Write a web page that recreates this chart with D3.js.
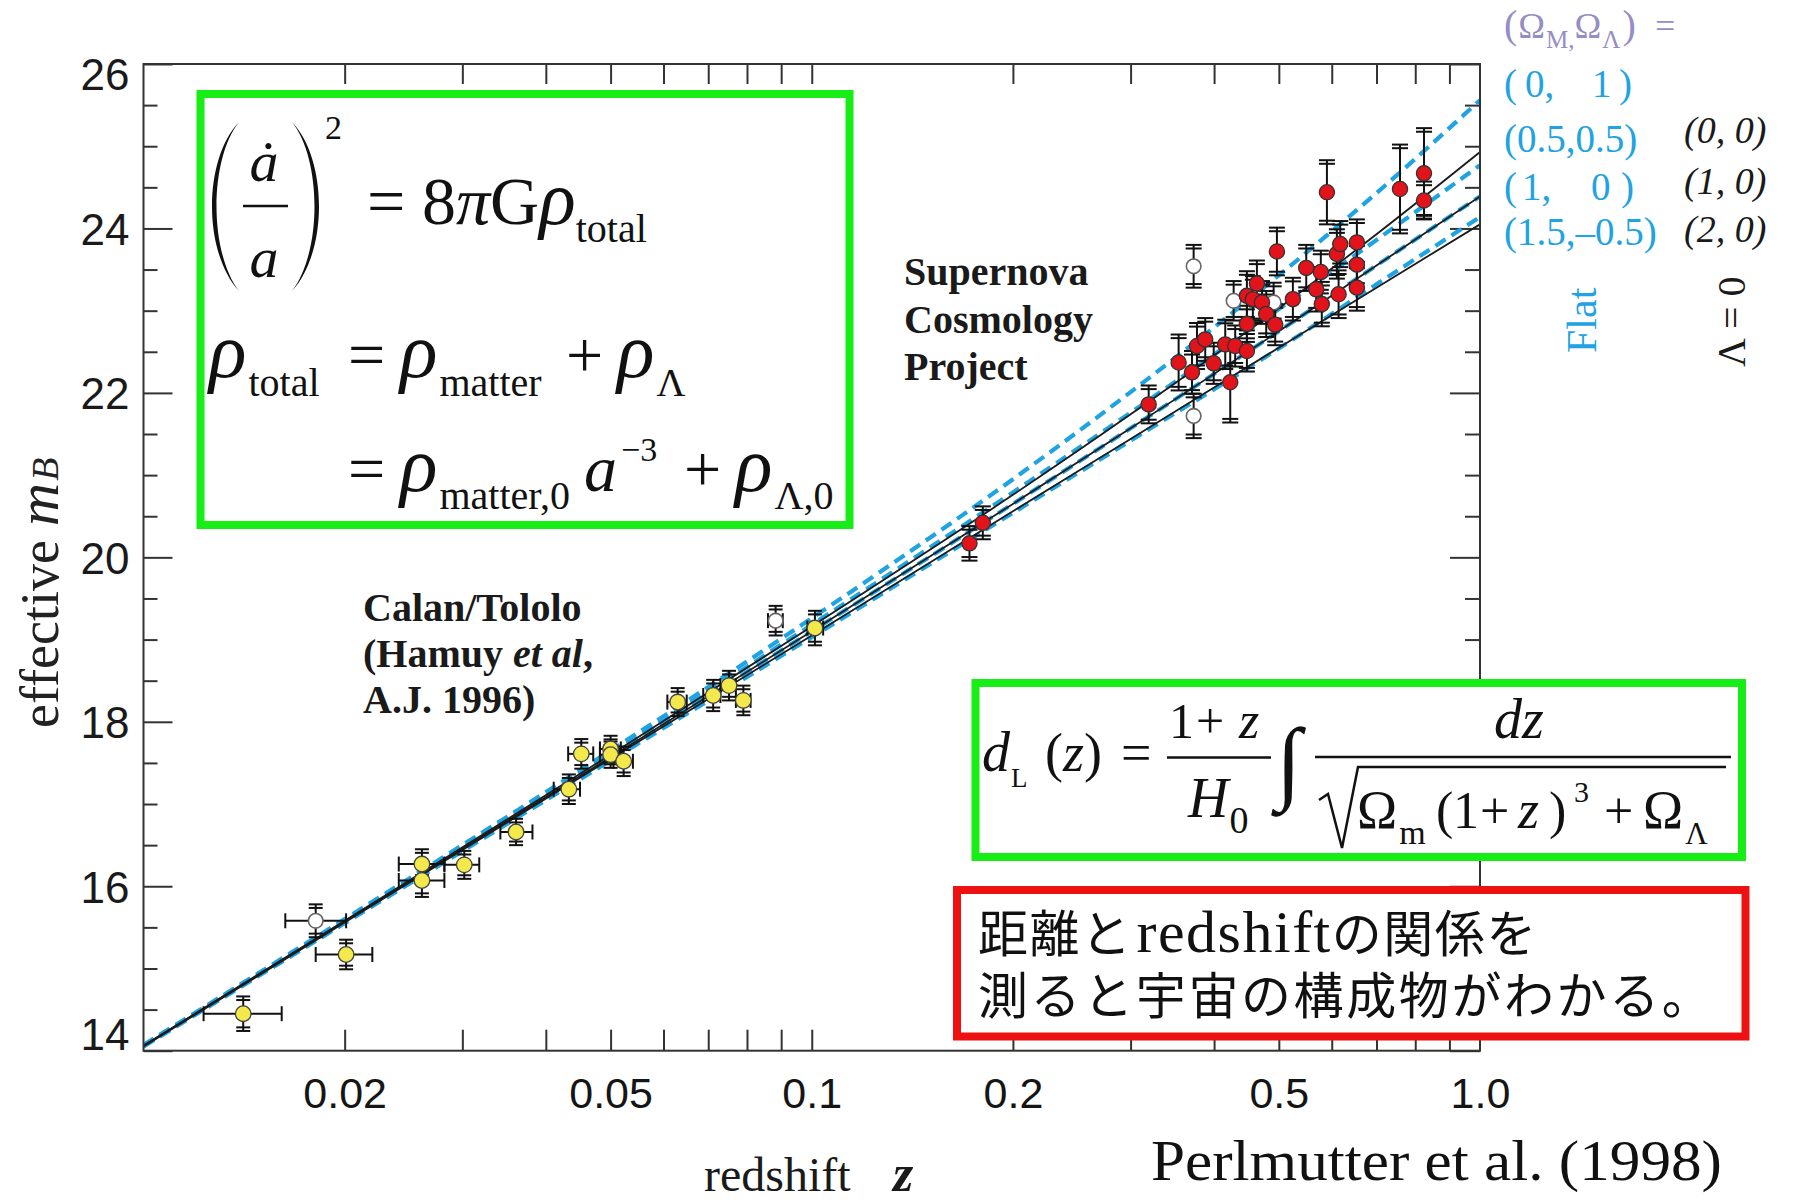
<!DOCTYPE html>
<html>
<head>
<meta charset="utf-8">
<script src="https://cdn.jsdelivr.net/npm/d3@7"></script>
<style>
  html, body { margin: 0; padding: 0; background: #fff; }
  svg { display: block; }
</style>
</head>
<body>
<svg id="chart" width="1793" height="1204"></svg>
<script>
// ---------------------------------------------------------------
// Hubble diagram of Type Ia supernovae, effective m_B vs redshift
// ---------------------------------------------------------------

// redshifts at which the cosmological model curves are sampled
const modelZ = [0.01, 0.02, 0.05, 0.1, 0.2, 0.3, 0.5, 0.7, 1.0];

// flat models (Ω_M, Ω_Λ)
const flat_0_1      = [14.07, 15.60, 17.65, 19.26, 20.95, 22.01, 23.43, 24.43, 25.56];
const flat_05_05    = [14.06, 15.58, 17.61, 19.18, 20.79, 21.76, 23.02, 23.86, 24.77];
const flat_1_0      = [14.06, 15.57, 17.57, 19.10, 20.65, 21.57, 22.75, 23.55, 24.39];
const flat_15_m05   = [14.05, 15.55, 17.53, 19.03, 20.54, 21.42, 22.54, 23.32, 24.14];

// Λ = 0 models (Ω_M, Ω_Λ)
const lambda0_0_0   = [14.06, 15.58, 17.60, 19.16, 20.76, 21.74, 23.03, 23.93, 24.93];
const lambda0_1_0   = [14.06, 15.57, 17.57, 19.10, 20.65, 21.57, 22.75, 23.55, 24.39];
const lambda0_2_0   = [14.05, 15.56, 17.55, 19.05, 20.56, 21.44, 22.55, 23.28, 24.05];

// Calan/Tololo supernovae: [z, m_B, σ_m, z_low, z_high]
const calanTololo = [
  [0.0141, 14.45, 0.21, 0.0123, 0.0161],
  [0.0201, 15.17, 0.18, 0.0181, 0.0220],
  [0.0261, 16.27, 0.18, 0.0241, 0.0282],
  [0.0261, 16.07, 0.20, 0.0241, 0.0282],
  [0.0302, 16.26, 0.17, 0.0282, 0.0318],
  [0.0361, 16.66, 0.16, 0.0342, 0.0382],
  [0.0433, 17.18, 0.18, 0.0411, 0.0450],
  [0.0452, 17.61, 0.18, 0.0432, 0.0471],
  [0.0500, 17.67, 0.16, 0.0482, 0.0518],
  [0.0500, 17.60, 0.16, 0.0482, 0.0518],
  [0.0523, 17.52, 0.18, 0.0505, 0.0540],
  [0.0630, 18.24, 0.17, 0.0608, 0.0650],
  [0.0712, 18.32, 0.19, 0.0688, 0.0730],
  [0.0752, 18.44, 0.18, 0.0730, 0.0770],
  [0.0790, 18.26, 0.18, 0.0770, 0.0810],
  [0.1011, 19.14, 0.21, 0.0985, 0.1040]
];

// supernovae left out of the fit (open symbols): [z, m_B, σ_m, z_low, z_high]
const excludedLowZ = [
  [0.0181, 15.58, 0.20, 0.0163, 0.0201],
  [0.0883, 19.23, 0.18, 0.0860, 0.0905]
];
// [z, m_B, σ_m]
const excludedHighZ = [
  [0.3728, 23.54, 0.26],
  [0.3728, 21.72, 0.27],
  [0.4279, 23.12, 0.24],
  [0.4911, 23.10, 0.24]
];

// Supernova Cosmology Project: [z, m_B, σ_m]
const scp = [
  [0.1722, 20.17, 0.21], [0.1803, 20.42, 0.20],
  [0.3193, 21.86, 0.23], [0.3540, 22.37, 0.34], [0.3707, 22.25, 0.26],
  [0.3771, 22.57, 0.28], [0.3880, 22.65, 0.26], [0.3995, 22.36, 0.25],
  [0.4157, 22.59, 0.30], [0.4229, 22.13, 0.49], [0.4302, 22.57, 0.25],
  [0.4479, 22.51, 0.25], [0.4479, 22.84, 0.22], [0.4479, 23.18, 0.30],
  [0.4572, 23.14, 0.28], [0.4636, 23.33, 0.28], [0.4718, 23.10, 0.26],
  [0.4787, 22.96, 0.28], [0.4938, 22.83, 0.25], [0.4967, 23.72, 0.29],
  [0.5248, 23.14, 0.26], [0.5495, 23.52, 0.28], [0.5687, 23.26, 0.27],
  [0.5778, 23.47, 0.26], [0.5798, 23.08, 0.27], [0.5901, 24.44, 0.39],
  [0.6107, 23.69, 0.30], [0.6178, 23.81, 0.28], [0.6143, 23.20, 0.29],
  [0.6543, 23.83, 0.28], [0.6543, 23.56, 0.27], [0.6543, 23.28, 0.28],
  [0.7591, 24.48, 0.54], [0.8245, 24.67, 0.55], [0.8245, 24.34, 0.23]
];

// axis ticks
const xTickVals  = [0.02, 0.03, 0.04, 0.05, 0.06, 0.07, 0.08, 0.09, 0.1,
                    0.2, 0.3, 0.4, 0.5, 0.6, 0.7, 0.8, 0.9];
const xLabelVals = [0.02, 0.05, 0.1, 0.2, 0.5, 1.0];
const xLabelText = ['0.02', '0.05', '0.1', '0.2', '0.5', '1.0'];
const yMajor = [14, 16, 18, 20, 22, 24, 26];
const yMinor = [14.5, 15, 15.5, 16.5, 17, 17.5, 18.5, 19, 19.5, 20.5, 21, 21.5,
                22.5, 23, 23.5, 24.5, 25, 25.5];

// ---------------------------------------------------------------
const svg = d3.select('#chart');
const L = 143.5, R = 1480, T = 64, B = 1050.7;

const x = d3.scaleLog().domain([0.01, 1.0]).range([L, R]);
const y = d3.scaleLinear().domain([14, 26]).range([B, T]);

const SERIF = "'Liberation Serif', 'Times New Roman', serif";
const SANS  = "'Liberation Sans', Arial, sans-serif";
const BLUE  = '#1fa3e2';
const AXIS  = '#333';

svg.append('rect').attr('width', 1793).attr('height', 1204).attr('fill', '#fff');

svg.append('defs').append('clipPath').attr('id', 'plotClip')
  .append('rect').attr('x', L).attr('y', T).attr('width', R - L).attr('height', B - T);

// ---------- axes ----------
function styleAxis(g) {
  g.select('.domain').remove();
  g.selectAll('.tick line').attr('stroke', AXIS).attr('stroke-width', 2);
}
const blank = () => '';

svg.append('g').attr('transform', `translate(0,${B})`)
  .call(d3.axisBottom(x).tickValues(xTickVals).tickSize(-21).tickFormat(blank)).call(styleAxis);
svg.append('g').attr('transform', `translate(0,${T})`)
  .call(d3.axisTop(x).tickValues(xTickVals).tickSize(-20).tickFormat(blank)).call(styleAxis);

svg.append('g').attr('transform', `translate(${L},0)`)
  .call(d3.axisLeft(y).tickValues(yMinor).tickSize(-14).tickFormat(blank)).call(styleAxis);
svg.append('g').attr('transform', `translate(${R},0)`)
  .call(d3.axisRight(y).tickValues(yMinor).tickSize(-15).tickFormat(blank)).call(styleAxis);
svg.append('g').attr('transform', `translate(${R},0)`)
  .call(d3.axisRight(y).tickValues(yMajor).tickSize(-30).tickFormat(blank)).call(styleAxis);

const yAxisG = svg.append('g').attr('transform', `translate(${L},0)`)
  .call(d3.axisLeft(y).tickValues(yMajor).tickSize(-29).tickPadding(14).tickFormat(d3.format('d')))
  .call(styleAxis);
yAxisG.selectAll('text')
  .attr('font-family', SANS).attr('font-size', 44).attr('fill', '#1a1a1a')
  .attr('dy', '0.36em')
  .attr('y', d => d === 26 ? 10 : (d === 14 ? -17 : 0));

const xAxisG = svg.append('g').attr('transform', `translate(0,${B})`)
  .call(d3.axisBottom(x).tickValues(xLabelVals).tickSize(0).tickPadding(27)
    .tickFormat((d, i) => xLabelText[i]));
xAxisG.select('.domain').remove();
xAxisG.selectAll('text').attr('font-family', SANS).attr('font-size', 43).attr('fill', '#151515');

// ---------- model curves ----------
const curve = d3.line()
  .x((d, i) => x(modelZ[i]))
  .y(d => y(d))
  .curve(d3.curveMonotoneX);

const models = svg.append('g').attr('clip-path', 'url(#plotClip)');
[flat_0_1, flat_05_05, flat_1_0, flat_15_m05].forEach(s => {
  models.append('path').attr('d', curve(s)).attr('fill', 'none')
    .attr('stroke', BLUE).attr('stroke-width', 4.2).attr('stroke-dasharray', '12,7');
});
[lambda0_0_0, lambda0_1_0, lambda0_2_0].forEach(s => {
  models.append('path').attr('d', curve(s)).attr('fill', 'none')
    .attr('stroke', '#1c1c1c').attr('stroke-width', 1.8);
});

// ---------- error bars ----------
const bars = svg.append('g').attr('stroke', '#111').attr('stroke-width', 2).attr('fill', 'none');

function yErrorBar(z, m, e, half) {
  const cx = x(z), yTop = y(m + e), yBot = y(m - e);
  bars.append('line').attr('x1', cx).attr('x2', cx).attr('y1', yTop).attr('y2', yBot);
  [yTop, yTop + 3.6, yBot, yBot - 3.6].forEach(yy => {
    bars.append('line').attr('x1', cx - half).attr('x2', cx + half).attr('y1', yy).attr('y2', yy);
  });
}
function xErrorBar(z, m, zlo, zhi) {
  const cy = y(m), x0 = x(zlo), x1 = x(zhi);
  bars.append('line').attr('x1', x0).attr('x2', x1).attr('y1', cy).attr('y2', cy);
  [x0, x1].forEach(xx => {
    bars.append('line').attr('x1', xx).attr('x2', xx).attr('y1', cy - 7.5).attr('y2', cy + 7.5);
  });
}

calanTololo.forEach(d => { yErrorBar(d[0], d[1], d[2], 7); xErrorBar(d[0], d[1], d[3], d[4]); });
excludedLowZ.forEach(d => { yErrorBar(d[0], d[1], d[2], 7); xErrorBar(d[0], d[1], d[3], d[4]); });
excludedHighZ.forEach(d => yErrorBar(d[0], d[1], d[2], 8));
scp.forEach(d => yErrorBar(d[0], d[1], d[2], 8));

// ---------- markers ----------
const marks = svg.append('g');
marks.selectAll('circle.open').data(excludedLowZ.concat(excludedHighZ)).join('circle')
  .attr('cx', d => x(d[0])).attr('cy', d => y(d[1])).attr('r', 7.3)
  .attr('fill', '#fff').attr('stroke', '#666').attr('stroke-width', 1.6);
marks.selectAll('circle.ct').data(calanTololo).join('circle')
  .attr('cx', d => x(d[0])).attr('cy', d => y(d[1])).attr('r', 7.8)
  .attr('fill', '#f3e94a').attr('stroke', '#444').attr('stroke-width', 1.3);
marks.selectAll('circle.scp').data(scp).join('circle')
  .attr('cx', d => x(d[0])).attr('cy', d => y(d[1])).attr('r', 7.6)
  .attr('fill', '#e3131b').attr('stroke', '#333').attr('stroke-width', 1.3);

// ---------- frame ----------
svg.append('rect').attr('x', L).attr('y', T).attr('width', R - L).attr('height', B - T)
  .attr('fill', 'none').attr('stroke', AXIS).attr('stroke-width', 2);

// ---------- text helper ----------
function rich(pieces, opts = {}) {
  const t = svg.append('text')
    .attr('font-family', opts.family || SERIF)
    .attr('fill', opts.fill || '#111');
  if (opts.transform) t.attr('transform', opts.transform);
  if (opts.anchor) t.attr('text-anchor', opts.anchor);
  pieces.forEach(p => {
    const s = t.append('tspan').text(p.t).attr('font-size', p.s);
    if (p.i) s.attr('font-style', 'italic');
    if (p.b) s.attr('font-weight', 'bold');
    if (p.x != null) s.attr('x', p.x);
    if (p.y != null) s.attr('y', p.y);
    if (p.dx != null) s.attr('dx', p.dx);
    if (p.dy != null) s.attr('dy', p.dy);
    if (p.f) s.attr('fill', p.f);
  });
  return t;
}

// ---------- axis titles ----------
rich([
  { t: 'effective', s: 54 },
  { t: 'm', s: 60, i: 1, dx: 14 },
  { t: 'B', s: 38, i: 1, dx: 2 }
], { transform: 'translate(58,728) rotate(-90)', fill: '#222' });

rich([
  { t: 'redshift', s: 48, x: 704, y: 1191 },
  { t: 'z', s: 52, i: 1, b: 1, x: 893, y: 1191 }
], { fill: '#1a1a1a' });

// ---------- data set captions ----------
rich([{ t: 'Calan/Tololo', s: 40, b: 1, x: 363, y: 621 }], { fill: '#1a1a1a' });
rich([
  { t: '(Hamuy ', s: 40, b: 1, x: 363, y: 667 },
  { t: 'et al', s: 40, b: 1, i: 1 },
  { t: ',', s: 40, b: 1 }
], { fill: '#1a1a1a' });
rich([{ t: 'A.J. 1996)', s: 40, b: 1, x: 363, y: 713 }], { fill: '#1a1a1a' });

rich([{ t: 'Supernova', s: 40, b: 1, x: 904, y: 285 }], { fill: '#1a1a1a' });
rich([{ t: 'Cosmology', s: 40, b: 1, x: 904, y: 333 }], { fill: '#1a1a1a' });
rich([{ t: 'Project', s: 40, b: 1, x: 904, y: 380 }], { fill: '#1a1a1a' });

// ---------- model legend ----------
const PURPLE = '#968dc6';
rich([
  { t: '(', s: 40, x: 1504, y: 38 },
  { t: 'Ω', s: 36, dx: 1 },
  { t: 'M,', s: 25, y: 48, dx: 1 },
  { t: 'Ω', s: 36, y: 38 },
  { t: 'Λ', s: 25, y: 48, dx: 1 },
  { t: ')', s: 40, y: 38, dx: 2 },
  { t: '=', s: 36, x: 1655, y: 38 }
], { fill: PURPLE });

const legendBlue = [
  { y: 97,  parts: [['(', 1504], ['0,', 1525], ['1', 1592], [')', 1619]] },
  { y: 152, parts: [['(0.5,0.5)', 1504]] },
  { y: 200, parts: [['(', 1504], ['1,', 1522], ['0', 1591], [')', 1621]] },
  { y: 245, parts: [['(1.5,–0.5)', 1504]] }
];
legendBlue.forEach(row => {
  rich(row.parts.map(p => ({ t: p[0], s: 39, x: p[1], y: row.y })), { fill: BLUE });
});
[['(0, 0)', 143], ['(1, 0)', 194], ['(2, 0)', 242]].forEach(r => {
  rich([{ t: r[0], s: 38, i: 1, x: 1684, y: r[1] }], { fill: '#1a1a1a' });
});
rich([{ t: 'Flat', s: 42 }], { transform: 'translate(1596,353) rotate(-90)', fill: BLUE });
rich([{ t: 'Λ = 0', s: 40 }], { transform: 'translate(1745,367) rotate(-90)', fill: '#1a1a1a' });

// ---------- Friedmann equation box ----------
const GREEN = '#16ee16';
svg.append('rect').attr('x', 200.5).attr('y', 94).attr('width', 649).attr('height', 431)
  .attr('fill', '#fff').attr('stroke', GREEN).attr('stroke-width', 8);

// tall parentheses around ȧ/a
const paren = svg.append('g').attr('fill', '#111');
paren.append('path').attr('d', 'M239,122 C203,160 203,252 239,291 C209,252 209,160 239,122 Z');
paren.append('path').attr('d', 'M292,122 C328,160 328,252 292,291 C322,252 322,160 292,122 Z');
svg.append('line').attr('x1', 243).attr('x2', 288).attr('y1', 206).attr('y2', 206)
  .attr('stroke', '#111').attr('stroke-width', 2.5);
rich([{ t: 'ȧ', s: 58, i: 1, x: 264, y: 181 }], { anchor: 'middle' });
rich([{ t: 'a', s: 58, i: 1, x: 264, y: 277 }], { anchor: 'middle' });
rich([{ t: '2', s: 34, x: 325, y: 139 }]);

rich([
  { t: '=', s: 68, x: 367, y: 224 },
  { t: '8', s: 68, x: 422, y: 224 },
  { t: 'π', s: 68, i: 1 },
  { t: 'G', s: 68 },
  { t: 'ρ', s: 76, i: 1 },
  { t: 'total', s: 40, y: 242 }
]);

rich([
  { t: 'ρ', s: 78, i: 1, x: 209, y: 377 },
  { t: 'total', s: 40, y: 396, dx: 2 },
  { t: '=', s: 66, x: 348, y: 377 },
  { t: 'ρ', s: 78, i: 1, x: 400, y: 377 },
  { t: 'matter', s: 40, y: 396, dx: 2 },
  { t: '+', s: 66, x: 566, y: 377 },
  { t: 'ρ', s: 78, i: 1, x: 617, y: 377 },
  { t: 'Λ', s: 40, y: 396, dx: 2 }
]);

rich([
  { t: '=', s: 66, x: 348, y: 491 },
  { t: 'ρ', s: 78, i: 1, x: 400, y: 491 },
  { t: 'matter,0', s: 40, y: 509, dx: 2 },
  { t: 'a', s: 66, i: 1, x: 584, y: 491 },
  { t: '−3', s: 34, y: 461, dx: 4 },
  { t: '+', s: 66, x: 684, y: 491 },
  { t: 'ρ', s: 78, i: 1, x: 735, y: 491 },
  { t: 'Λ,0', s: 40, y: 509, dx: 2 }
]);

// ---------- luminosity distance box ----------
svg.append('rect').attr('x', 975.5).attr('y', 683).attr('width', 766.5).attr('height', 174)
  .attr('fill', '#fff').attr('stroke', GREEN).attr('stroke-width', 8);

rich([
  { t: 'd', s: 56, i: 1, x: 982, y: 771 },
  { t: 'L', s: 27, y: 787, dx: 1 },
  { t: '(', s: 54, x: 1045, y: 771 },
  { t: 'z', s: 54, i: 1 },
  { t: ')', s: 54 },
  { t: '=', s: 54, x: 1121, y: 771 },
  { t: '1', s: 50, x: 1169, y: 738 },
  { t: '+', s: 50, x: 1196, y: 738 },
  { t: 'z', s: 52, i: 1, x: 1239, y: 738 },
  { t: 'H', s: 56, i: 1, x: 1188, y: 817 },
  { t: '0', s: 38, y: 833, dx: 1 },
  { t: 'dz', s: 56, i: 1, x: 1494, y: 738 }
]);
svg.append('line').attr('x1', 1167).attr('x2', 1271).attr('y1', 757.5).attr('y2', 757.5)
  .attr('stroke', '#111').attr('stroke-width', 2.5);
svg.append('line').attr('x1', 1315).attr('x2', 1731).attr('y1', 757).attr('y2', 757)
  .attr('stroke', '#111').attr('stroke-width', 2.5);
rich([{ t: '∫', s: 92, x: 1276, y: 792 }]);
svg.append('path').attr('d', 'M1319,800 L1328,794 L1342,848 L1358,767 L1726,767')
  .attr('fill', 'none').attr('stroke', '#111').attr('stroke-width', 2.5);
rich([
  { t: 'Ω', s: 54, x: 1357, y: 828 },
  { t: 'm', s: 34, y: 844, dx: 2 },
  { t: '(', s: 52, x: 1436, y: 828 },
  { t: '1', s: 52, x: 1453, y: 828 },
  { t: '+', s: 52, x: 1480, y: 828 },
  { t: 'z', s: 54, i: 1, x: 1518, y: 828 },
  { t: ')', s: 52, x: 1549, y: 828 },
  { t: '3', s: 30, x: 1574, y: 802 },
  { t: '+', s: 52, x: 1604, y: 828 },
  { t: 'Ω', s: 54, x: 1643, y: 828 },
  { t: 'Λ', s: 31, y: 844, dx: 2 }
]);

// ---------- message box ----------
svg.append('rect').attr('x', 957).attr('y', 890).attr('width', 788.5).attr('height', 146.5)
  .attr('fill', '#fff').attr('stroke', '#ee1111').attr('stroke-width', 8);
const JP = "'Liberation Serif', 'Noto Sans CJK JP', serif";
rich([
  { t: '距離と', s: 50, x: 978, y: 952 },
  { t: 'redshift', s: 60, dx: 4 },
  { t: 'の関係を', s: 50 }
], { family: JP, fill: '#111' }).attr('letter-spacing', 1.5);
rich([
  { t: '測ると宇宙の構成物がわかる。', s: 50, x: 978, y: 1014 }
], { family: JP, fill: '#111' }).attr('letter-spacing', 2.6);

// ---------- reference ----------
svg.append('text').attr('x', 1151).attr('y', 1180)
  .attr('font-family', SERIF).attr('font-size', 58).attr('fill', '#111')
  .attr('textLength', 571).attr('lengthAdjust', 'spacingAndGlyphs')
  .text('Perlmutter et al. (1998)');
</script>
</body>
</html>
